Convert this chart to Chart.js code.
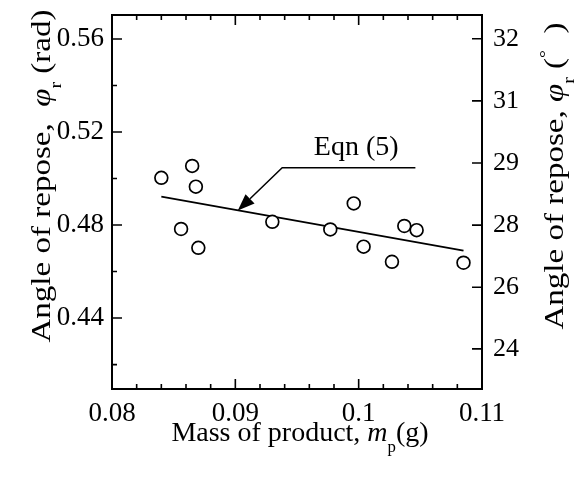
<!DOCTYPE html>
<html>
<head>
<meta charset="utf-8">
<script src="https://cdn.jsdelivr.net/npm/chart.js@4/dist/chart.umd.min.js"></script>
<style>
  html, body { margin: 0; padding: 0; background: #fff; }
</style>
</head>
<body>
<canvas id="reposeChart" width="577" height="486"></canvas>
<script>
// Measured points: mass of product (g) vs angle of repose (rad)
const massData  = [0.0840, 0.0865, 0.0868, 0.0856, 0.0870, 0.0930, 0.0977, 0.0996, 0.1004, 0.1027, 0.1037, 0.1047, 0.1085];
const angleData = [0.5003, 0.5054, 0.4965, 0.4783, 0.4702, 0.4814, 0.4781, 0.4893, 0.4707, 0.4642, 0.4796, 0.4778, 0.4638];

// Eqn (5) line end points
const fitMass  = [0.0840, 0.1085];
const fitAngle = [0.4922, 0.4690];

// Axis ticks
const xTickValues = [0.08, 0.09, 0.10, 0.11];
const xTickLabels = ['0.08', '0.09', '0.1', '0.11'];
const leftTickValues = [0.44, 0.48, 0.52, 0.56];
const leftTickLabels = ['0.44', '0.48', '0.52', '0.56'];
const rightTickDeg = [24.45, 25.97, 27.50, 29.03, 30.56, 32.09];
const rightTickLabels = ['24', '26', '28', '29', '31', '32'];

const xMin = 0.08, xMax = 0.11;
const yMin = 0.4095, yMax = 0.5703;
const DEG = 180 / Math.PI;

const SERIF = '"Liberation Serif", "Times New Roman", serif';
const tickFont = { family: SERIF, size: 27 };
const rightTickFont = { family: SERIF, size: 26 };
const titleSize = 28;

// Replace generated ticks with a fixed list
function fixTicks(values) {
    return function(scale) {
        scale.ticks = values.map(v => ({ value: v }));
    };
}

// Fixed axis box size, no extra padding
function fixSize(prop, size) {
    return function(s) {
        s[prop] = size;
        s.paddingTop = 0; s.paddingBottom = 0;
        s.paddingLeft = 0; s.paddingRight = 0;
    };
}

// Draw text made of several pieces (normal / italic / sub / sup)
function drawRich(ctx, pieces, x, y, angle, stretch) {
    ctx.save();
    ctx.translate(x, y);
    ctx.rotate(angle);
    ctx.scale(stretch || 1, 1);
    ctx.fillStyle = '#000';
    ctx.textBaseline = 'alphabetic';
    ctx.textAlign = 'left';
    const fontFor = p => {
        const size = (p.sub || p.sup) ? titleSize * 0.6 : titleSize;
        return (p.italic ? 'italic ' : '') + size + 'px ' + SERIF;
    };
    let total = 0;
    pieces.forEach(p => { ctx.font = fontFor(p); total += ctx.measureText(p.text).width; });
    let cx = -total / 2;
    pieces.forEach(p => {
        ctx.font = fontFor(p);
        let dy = 0;
        if (p.sub) dy = titleSize * 0.38;
        if (p.sup) dy = -titleSize * 0.42;
        ctx.fillText(p.text, cx, dy);
        cx += ctx.measureText(p.text).width;
    });
    ctx.restore();
}

// Frame and inward ticks
const framePlugin = {
    id: 'frame',
    afterDraw(chart) {
        const ctx = chart.ctx;
        const a = chart.chartArea;
        const x = chart.scales.x, y = chart.scales.y, y2 = chart.scales.y2;
        ctx.save();
        ctx.strokeStyle = '#000';
        ctx.lineWidth = 2;
        ctx.strokeRect(a.left, a.top, a.right - a.left, a.bottom - a.top);
        ctx.lineWidth = 1.6;
        ctx.beginPath();
        // x ticks every 0.002, major every 0.01 (bottom and top)
        for (let i = 0; i <= 15; i++) {
            const v = xMin + i * 0.002;
            const px = x.getPixelForValue(v);
            const len = (i % 5 === 0) ? 10 : 5;
            ctx.moveTo(px, a.bottom); ctx.lineTo(px, a.bottom - len);
            ctx.moveTo(px, a.top); ctx.lineTo(px, a.top + len);
        }
        // left ticks every 0.02, major every 0.04
        for (let i = 0; i <= 7; i++) {
            const v = 0.42 + i * 0.02;
            const py = y.getPixelForValue(v);
            const len = (i % 2 === 1) ? 10 : 5;
            ctx.moveTo(a.left, py); ctx.lineTo(a.left + len, py);
        }
        // right ticks
        rightTickDeg.forEach(d => {
            const py = y2.getPixelForValue(d);
            ctx.moveTo(a.right, py); ctx.lineTo(a.right - 10, py);
        });
        ctx.stroke();
        ctx.restore();
    }
};

// Eqn (5) label with leader arrow
const eqnLabel = { text: 'Eqn (5)', x: 0.0998, y: 0.5101 };
const eqnLeader = [ { x: 0.1046, y: 0.5046 }, { x: 0.0938, y: 0.5046 }, { x: 0.0902, y: 0.4862 } ];

const annotationPlugin = {
    id: 'eqnAnnotation',
    afterDatasetsDraw(chart) {
        const ctx = chart.ctx;
        const x = chart.scales.x, y = chart.scales.y;
        const pts = eqnLeader.map(p => [x.getPixelForValue(p.x), y.getPixelForValue(p.y)]);
        ctx.save();
        ctx.strokeStyle = '#000';
        ctx.fillStyle = '#000';
        ctx.lineWidth = 1.5;
        const tip = pts[pts.length - 1];
        const prev = pts[pts.length - 2];
        const ang = Math.atan2(tip[1] - prev[1], tip[0] - prev[0]);
        const headLen = 17, headHalf = 6.5;
        const bx = tip[0] - headLen * Math.cos(ang), by = tip[1] - headLen * Math.sin(ang);
        ctx.beginPath();
        ctx.moveTo(pts[0][0], pts[0][1]);
        for (let i = 1; i < pts.length - 1; i++) ctx.lineTo(pts[i][0], pts[i][1]);
        ctx.lineTo(bx, by);
        ctx.stroke();
        ctx.beginPath();
        ctx.moveTo(tip[0], tip[1]);
        ctx.lineTo(bx + headHalf * Math.sin(ang), by - headHalf * Math.cos(ang));
        ctx.lineTo(bx - headHalf * Math.sin(ang), by + headHalf * Math.cos(ang));
        ctx.closePath();
        ctx.fill();
        ctx.font = titleSize + 'px ' + SERIF;
        ctx.textAlign = 'center';
        ctx.textBaseline = 'alphabetic';
        ctx.fillText(eqnLabel.text, x.getPixelForValue(eqnLabel.x), y.getPixelForValue(eqnLabel.y));
        ctx.restore();
    }
};

// Axis titles
const xTitle = [ { text: 'Mass of product, ' }, { text: 'm', italic: true }, { text: 'p', sub: true }, { text: '(g)' } ];
const leftTitle = [ { text: 'Angle of repose,  ' }, { text: 'φ', italic: true }, { text: 'r', sub: true }, { text: ' (rad)' } ];
const rightTitle = [ { text: 'Angle of repose, ' }, { text: 'φ', italic: true }, { text: 'r', sub: true }, { text: ' (' }, { text: '°', sup: true }, { text: '  )' } ];

const titlePlugin = {
    id: 'axisTitles',
    afterDraw(chart) {
        const ctx = chart.ctx;
        const a = chart.chartArea;
        const midX = (a.left + a.right) / 2;
        drawRich(ctx, xTitle, midX + 3, 441, 0, 1);
        drawRich(ctx, leftTitle, 50, 176, -Math.PI / 2, 1.18);
        drawRich(ctx, rightTitle, 563, 176, -Math.PI / 2, 1.18);
    }
};

const ctx = document.getElementById('reposeChart').getContext('2d');
new Chart(ctx, {
    type: 'scatter',
    data: {
        datasets: [
            {
                label: 'Measured',
                data: massData.map((m, i) => ({ x: m, y: angleData[i] })),
                pointRadius: 6.4,
                pointBorderWidth: 1.7,
                pointBackgroundColor: '#fff',
                pointBorderColor: '#000',
                showLine: false,
                order: 1
            },
            {
                label: 'Eqn (5)',
                data: fitMass.map((m, i) => ({ x: m, y: fitAngle[i] })),
                showLine: true,
                borderColor: '#000',
                borderWidth: 1.8,
                pointRadius: 0,
                fill: false,
                order: 2
            }
        ]
    },
    options: {
        responsive: false,
        animation: false,
        layout: { padding: { top: 15 } },
        plugins: {
            legend: { display: false },
            tooltip: { enabled: false }
        },
        scales: {
            x: {
                type: 'linear',
                position: 'bottom',
                min: xMin,
                max: xMax,
                afterBuildTicks: fixTicks(xTickValues),
                afterFit: fixSize('height', 97),
                grid: { display: false, drawTicks: false },
                border: { display: false },
                ticks: {
                    autoSkip: false,
                    maxRotation: 0,
                    padding: 9,
                    color: '#000',
                    font: tickFont,
                    callback: (v, i) => xTickLabels[i]
                }
            },
            y: {
                type: 'linear',
                position: 'left',
                min: yMin,
                max: yMax,
                afterBuildTicks: fixTicks(leftTickValues),
                afterFit: fixSize('width', 112),
                grid: { display: false, drawTicks: false },
                border: { display: false },
                ticks: {
                    autoSkip: false,
                    padding: 8,
                    color: '#000',
                    font: tickFont,
                    callback: (v, i) => leftTickLabels[i]
                }
            },
            y2: {
                type: 'linear',
                position: 'right',
                min: yMin * DEG,
                max: yMax * DEG,
                afterBuildTicks: fixTicks(rightTickDeg),
                afterFit: fixSize('width', 95),
                grid: { display: false, drawTicks: false },
                border: { display: false },
                ticks: {
                    autoSkip: false,
                    padding: 11,
                    color: '#000',
                    font: rightTickFont,
                    callback: (v, i) => rightTickLabels[i]
                }
            }
        }
    },
    plugins: [framePlugin, annotationPlugin, titlePlugin]
});
</script>
</body>
</html>
